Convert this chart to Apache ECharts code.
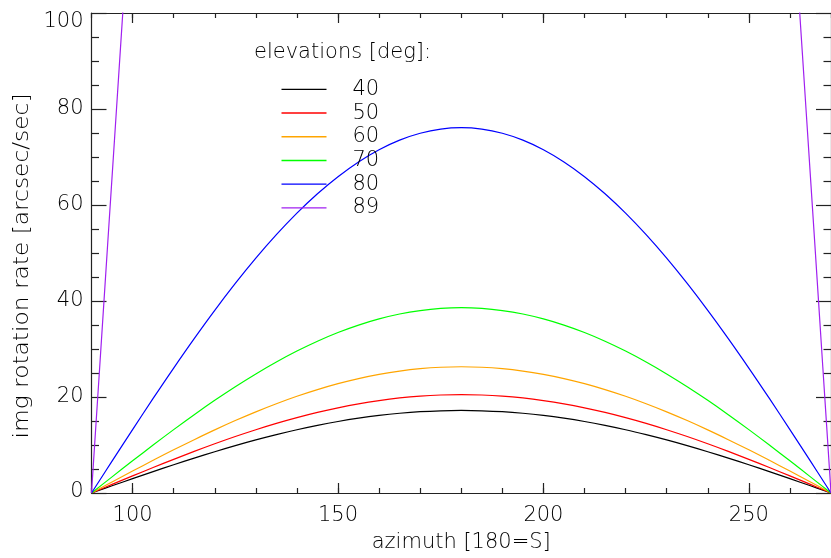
<!DOCTYPE html>
<html>
<head>
<meta charset="utf-8">
<script src="https://cdn.jsdelivr.net/npm/echarts@6/dist/echarts.min.js"></script>
<style>
html,body{margin:0;padding:0;background:#fff;}
#c{width:831px;height:558px;}
</style>
</head>
<body>
<div id="c"></div>
<script>
// ---- data ----
const azimuth = [90,95,100,105,110,115,120,125,130,135,140,145,150,155,160,165,170,175,180,185,190,195,200,205,210,215,220,225,230,235,240,245,250,255,260,265,270];
const elev40 = [0,1.50,2.99,4.45,5.88,7.27,8.60,9.87,11.06,12.16,13.18,14.09,14.90,15.59,16.16,16.61,16.94,17.13,17.2,17.13,16.94,16.61,16.16,15.59,14.90,14.09,13.18,12.16,11.06,9.87,8.60,7.27,5.88,4.45,2.99,1.50,0];
const elev50 = [0,1.79,3.56,5.31,7.01,8.66,10.25,11.76,13.18,14.50,15.70,16.79,17.75,18.58,19.26,19.80,20.19,20.42,20.5,20.42,20.19,19.80,19.26,18.58,17.75,16.79,15.70,14.50,13.18,11.76,10.25,8.66,7.01,5.31,3.56,1.79,0];
const elev60 = [0,2.29,4.57,6.81,9.00,11.11,13.15,15.09,16.91,18.60,20.15,21.54,22.78,23.84,24.71,25.40,25.90,26.20,26.3,26.20,25.90,25.40,24.71,23.84,22.78,21.54,20.15,18.60,16.91,15.09,13.15,11.11,9.00,6.81,4.57,2.29,0];
const elev70 = [0,3.36,6.70,9.99,13.20,16.31,19.30,22.14,24.81,27.29,29.57,31.62,33.43,34.98,36.27,37.29,38.01,38.45,38.6,38.45,38.01,37.29,36.27,34.98,33.43,31.62,29.57,27.29,24.81,22.14,19.30,16.31,13.20,9.99,6.70,3.36,0];
const elev80 = [0,6.63,13.21,19.70,26.03,32.16,38.05,43.65,48.92,53.81,58.30,62.34,65.90,68.97,71.51,73.51,74.94,75.81,76.1,75.81,74.94,73.51,71.51,68.97,65.90,62.34,58.30,53.81,48.92,43.65,38.05,32.16,26.03,19.70,13.21,6.63,0];
const az89Rise = [90,91,92,93,94,95,96,97,98];
const elev89Rise = [0,13.2,26.3,39.5,52.7,65.8,78.9,92.0,105.1];
const az89Fall = [262,263,264,265,266,267,268,269,270];
const elev89Fall = [105.1,92.0,78.9,65.8,52.7,39.5,26.3,13.2,0];
const elevationNames = ['40','50','60','70','80','89'];
const colors = ['#000000','#ff0000','#ffa500','#00ff00','#0000ff','#a020f0'];
const xMajorTicks = [100,150,200,250];

function pairs(xs, ys){ return xs.map((x,i)=>[x, ys[i]]); }
const data89 = pairs(az89Rise, elev89Rise).concat([[180,'-']]).concat(pairs(az89Fall, elev89Fall));
const seriesData = [
  pairs(azimuth, elev40), pairs(azimuth, elev50), pairs(azimuth, elev60),
  pairs(azimuth, elev70), pairs(azimuth, elev80), data89
];

const FONT = 'DejaVu Sans';
const TXT = '#000';
const FS = 21;
const FW = 200;
const axisLineStyle = {color:'#222', width:1.2};
const txtBase = {color:TXT, fontFamily:FONT, fontSize:FS, fontWeight:FW};

const chart = echarts.init(document.getElementById('c'), null, {renderer:'canvas'});
function xAx(pos, major, labels){
  return {
    type:'value', position:pos, min:90, max:270, interval:10,
    axisLine:{show:major, lineStyle:axisLineStyle},
    axisTick:major ? {show:true, inside:true, length:10, customValues:xMajorTicks, lineStyle:axisLineStyle}
                   : {show:true, inside:true, length:5, lineStyle:axisLineStyle},
    axisLabel: labels ? Object.assign({show:true, customValues:xMajorTicks, margin:12}, txtBase)
                      : {show:false},
    splitLine:{show:false}
  };
}
function yAx(pos, labels){
  return {
    type:'value', position:pos, min:0, max:100, interval:20,
    axisLine:{show:true, lineStyle:axisLineStyle},
    axisTick:{show:true, inside:true, length:15, lineStyle:axisLineStyle},
    minorTick:{show:true, splitNumber:4, length:7.5, lineStyle:axisLineStyle},
    axisLabel: labels ? Object.assign({show:true, margin:8,
        formatter: v => v === 0 ? '{lo|0}' : (v === 100 ? '{hi|100}' : String(v)),
        rich:{
          lo: Object.assign({padding:[0,0,2,0]}, txtBase),
          hi: Object.assign({padding:[18,0,0,0]}, txtBase)
        }}, txtBase) : {show:false},
    splitLine:{show:false}, minorSplitLine:{show:false}
  };
}
const xAxes = [xAx('bottom', true, true), xAx('bottom', false, false), xAx('top', true, false), xAx('top', false, false)];
xAxes[0].name = 'azimuth [180=S]';
xAxes[0].nameLocation = 'middle';
xAxes[0].nameGap = 39;
xAxes[0].nameTextStyle = txtBase;

const option = {
  backgroundColor:'#ffffff',
  animation:false,
  grid:{left:91.5, top:13, width:750.5, height:485.5, containLabel:false},
  xAxis: xAxes,
  yAxis: [yAx('left', true), yAx('right', false)],
  title:{text:'elevations [deg]:', left:254, top:42, padding:0, textStyle:txtBase},
  legend:{
    orient:'vertical', left:281.5, top:77.5, padding:0, itemWidth:45, itemHeight:1.4, itemGap:0,
    icon:'rect',
    data: elevationNames,
    textStyle:Object.assign({lineHeight:23.7, padding:[0,0,0,21]}, txtBase)
  },
  graphic:[{
    type:'text', x:23, y:266, rotation:Math.PI/2, scaleX:1.11,
    style:{text:'img rotation rate [arcsec/sec]', fill:TXT, font:FW+' '+FS+'px "'+FONT+'"', align:'center', verticalAlign:'middle'}
  }],
  series: seriesData.map((d,i)=>({
    name: elevationNames[i], type:'line', xAxisIndex:0, yAxisIndex:0,
    data:d, showSymbol:false, symbol:'none', clip:true, connectNulls:false,
    smooth: i < 5 ? 0.4 : false,
    lineStyle:{color:colors[i], width:1.2}, itemStyle:{color:colors[i]}
  }))
};
chart.setOption(option);
</script>
</body>
</html>
